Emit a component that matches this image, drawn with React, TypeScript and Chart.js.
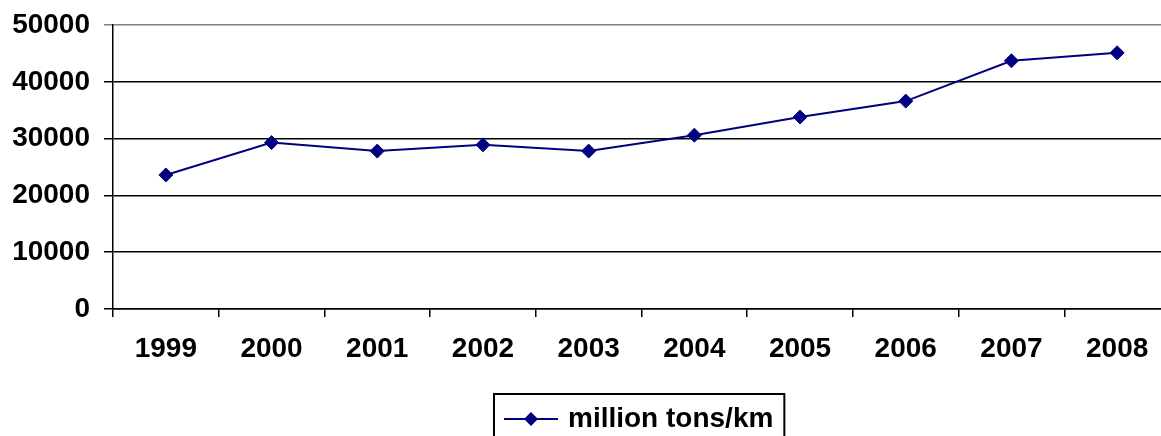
import { useEffect, useRef } from "react";
import { Chart, registerables } from "chart.js";

Chart.register(...registerables);

const years = ["1999", "2000", "2001", "2002", "2003", "2004", "2005", "2006", "2007", "2008"];
const tonKm = [23600, 29300, 27800, 28900, 27800, 30600, 33800, 36600, 43700, 45100];
const yMin = 0;
const yMax = 50000;
const yStep = 10000;
const seriesLabel = "million tons/km";

const FONT = "'Liberation Sans', Arial, Helvetica, sans-serif";
const NAVY = "#000080";
const FSIZE = 28;

const boxLegend = {
  id: "boxLegend",
  afterDraw(chart: any) {
    const ctx = chart.ctx as CanvasRenderingContext2D;
    const ds = chart.data.datasets[0];
    ctx.save();
    ctx.font = `bold ${FSIZE}px ${FONT}`;
    const tw = ctx.measureText(ds.label).width;
    const lineLen = 54;
    const gap = 10;
    const padL = 10;
    const padR = 11;
    const w = padL + lineLen + gap + tw + padR;
    const cx = (chart.chartArea.left + chart.chartArea.right) / 2 - 2;
    const x0 = Math.round(cx - w / 2);
    const top = 394;
    const cy = 419;
    ctx.fillStyle = "#fff";
    ctx.fillRect(x0, top, w, 80);
    ctx.strokeStyle = "#000";
    ctx.lineWidth = 2;
    ctx.strokeRect(x0, top, w, 80);
    ctx.strokeStyle = NAVY;
    ctx.lineWidth = 2;
    ctx.beginPath();
    ctx.moveTo(x0 + padL, cy);
    ctx.lineTo(x0 + padL + lineLen, cy);
    ctx.stroke();
    const mx = x0 + padL + lineLen / 2;
    const r = 7;
    ctx.fillStyle = NAVY;
    ctx.beginPath();
    ctx.moveTo(mx, cy - r);
    ctx.lineTo(mx + r, cy);
    ctx.lineTo(mx, cy + r);
    ctx.lineTo(mx - r, cy);
    ctx.closePath();
    ctx.fill();
    ctx.fillStyle = "#000";
    ctx.textBaseline = "middle";
    ctx.textAlign = "left";
    ctx.fillText(ds.label, x0 + padL + lineLen + gap, cy);
    ctx.restore();
  },
};

export default function App() {
  const ref = useRef<HTMLCanvasElement | null>(null);

  useEffect(() => {
    if (!ref.current) return;
    const chart = new Chart(ref.current, {
      type: "line",
      data: {
        labels: years,
        datasets: [
          {
            label: seriesLabel,
            data: tonKm,
            borderColor: NAVY,
            backgroundColor: NAVY,
            borderWidth: 2,
            pointStyle: "rectRot",
            pointRadius: 7,
            pointHoverRadius: 7,
            pointBackgroundColor: NAVY,
            pointBorderColor: NAVY,
            pointBorderWidth: 1,
            tension: 0,
            fill: false,
          },
        ],
      },
      options: {
        responsive: false,
        animation: false,
        devicePixelRatio: 1,
        layout: { padding: { top: 25, right: 10, left: 0, bottom: 0 } },
        plugins: {
          legend: { display: false },
          tooltip: { enabled: false },
        },
        scales: {
          x: {
            type: "category",
            offset: true,
            grid: {
              offset: true,
              drawOnChartArea: false,
              drawTicks: true,
              tickLength: 8,
              color: "#000",
              lineWidth: 1.5,
            },
            border: { display: true, color: "#000", width: 1.5 },
            ticks: {
              color: "#000",
              font: { family: FONT, size: FSIZE, weight: "bold" },
              padding: 15,
              maxRotation: 0,
              autoSkip: false,
            },
            afterFit(scale: any) {
              scale.height = 127;
              scale.paddingLeft = 0;
              scale.paddingRight = 0;
            },
          },
          y: {
            min: yMin,
            max: yMax,
            grid: {
              color: (c: any) => (c.tick && c.tick.value === yMax ? "#808080" : "#000"),
              lineWidth: 1.5,
              drawTicks: true,
              tickLength: 9,
            },
            border: { display: true, color: "#000", width: 1.5 },
            ticks: {
              stepSize: yStep,
              color: "#000",
              font: { family: FONT, size: FSIZE, weight: "bold" },
              padding: 14,
              callback: (v: any) => String(v),
            },
            afterFit(scale: any) {
              scale.width = 113;
              scale.paddingTop = 0;
              scale.paddingBottom = 0;
            },
          },
        },
      },
      plugins: [boxLegend],
    });
    return () => chart.destroy();
  }, []);

  return (
    <div
      style={{
        position: "fixed",
        left: 0,
        top: 0,
        width: 1161,
        height: 436,
        overflow: "hidden",
        background: "#fff",
      }}
    >
      <canvas ref={ref} width={1180} height={436} style={{ position: "absolute", left: 0, top: 0 }} />
    </div>
  );
}
